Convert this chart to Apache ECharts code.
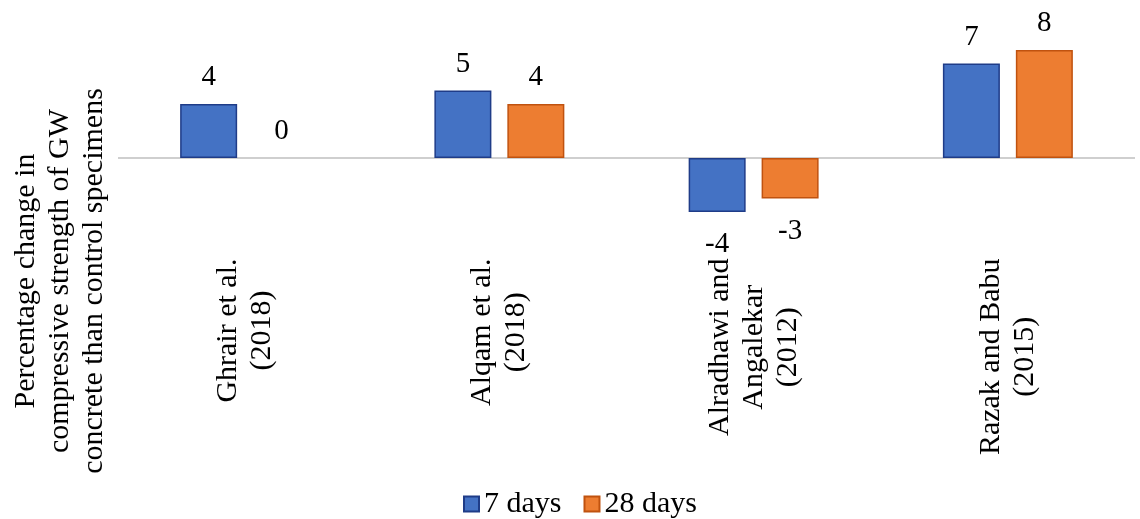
<!DOCTYPE html>
<html>
<head>
<meta charset="utf-8">
<script src="https://cdn.jsdelivr.net/npm/echarts@6/dist/echarts.min.js"></script>
<style>
  html, body { margin: 0; padding: 0; background: #ffffff; }
  #chart { width: 1140px; height: 519px; }
</style>
</head>
<body>
<div id="chart"></div>
<script>
const categories = ['Ghrair et al.\n(2018)', 'Alqam et al.\n(2018)', 'Alradhawi and\nAngalekar\n(2012)', 'Razak and Babu\n(2015)'];
const seriesNames = ['7 days', '28 days'];
const days7 = [4, 5, -4, 7];
const days28 = [0, 4, -3, 8];
const yTitle = 'Percentage change in\ncompressive strength of GW\nconcrete than control specimens';

const FONT = '"Liberation Serif", "Times New Roman", serif';
const FS = 30;
const FS_LABEL = 29;

function buildData(values) {
  return values.map(v => ({
    value: v,
    label: v < 0 ? { position: 'bottom', distance: 18 } : { position: 'top', distance: 12 },
    itemStyle: v === 0 ? { borderWidth: 0 } : undefined
  }));
}

const chart = echarts.init(document.getElementById('chart'), null, { renderer: 'canvas' });
chart.setOption({
  animation: false,
  backgroundColor: '#ffffff',
  grid: { left: 118, right: 5, top: 23, bottom: 266.5, containLabel: false },
  xAxis: {
    type: 'category',
    data: categories,
    axisLine: { show: false },
    axisTick: { show: false },
    axisLabel: {
      rotate: 90,
      margin: 6,
      interval: 0,
      formatter: v => v.split('\n').map(l => '{c|' + l + '}').join('\n'),
      rich: {
        c: { align: 'center', fontFamily: FONT, fontSize: FS, lineHeight: 34, color: '#000' }
      }
    }
  },
  yAxis: {
    type: 'value',
    min: -7,
    max: 10,
    show: false,
    splitLine: { show: false }
  },
  legend: {
    data: seriesNames,
    left: 458,
    top: 484,
    icon: 'rect',
    itemWidth: 15,
    itemHeight: 15,
    itemGap: 22,
    textStyle: { fontFamily: FONT, fontSize: FS, color: '#000' }
  },
  graphic: [{
    type: 'text',
    x: 60,
    y: 281,
    rotation: Math.PI / 2,
    style: {
      text: yTitle,
      font: FS + 'px ' + FONT,
      lineHeight: 34,
      fill: '#000',
      textAlign: 'center',
      textVerticalAlign: 'middle'
    }
  }],
  series: [
    {
      name: seriesNames[0],
      type: 'bar',
      data: buildData(days7),
      barWidth: 57,
      barGap: '28%',
      itemStyle: { color: '#4472C4', borderColor: '#1F3C88', borderWidth: 1.5 },
      label: { show: true, fontFamily: FONT, fontSize: FS_LABEL, color: '#000' },
      markLine: {
        silent: true,
        z: 1,
        symbol: ['none', 'none'],
        label: { show: false },
        lineStyle: { type: 'solid', color: '#BFBFBF', width: 1.5 },
        data: [{ yAxis: 0 }]
      }
    },
    {
      name: seriesNames[1],
      type: 'bar',
      data: buildData(days28),
      barWidth: 57,
      barGap: '28%',
      itemStyle: { color: '#ED7D31', borderColor: '#C0520F', borderWidth: 1.5 },
      label: { show: true, fontFamily: FONT, fontSize: FS_LABEL, color: '#000' }
    }
  ]
});
</script>
</body>
</html>
